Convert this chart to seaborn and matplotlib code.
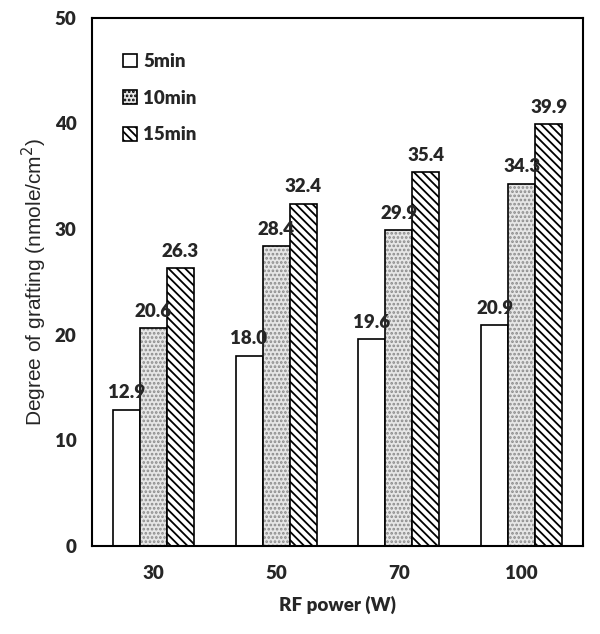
import pandas as pd
import numpy as np
import matplotlib
matplotlib.use('Agg')
import matplotlib.pyplot as plt
import seaborn as sns

# data
power = ['30', '50', '70', '100']
times = ['5min', '10min', '15min']
val_5 = [12.9, 18.0, 19.6, 20.9]
val_10 = [20.6, 28.4, 29.9, 34.3]
val_15 = [26.3, 32.4, 35.4, 39.9]

df = pd.DataFrame({
    'power': power * 3,
    'time': ['5min'] * 4 + ['10min'] * 4 + ['15min'] * 4,
    'value': val_5 + val_10 + val_15,
})

sns.set_style('white')
plt.rcParams['font.family'] = ['Lato', 'DejaVu Sans']
plt.rcParams['hatch.linewidth'] = 1.3

fig = plt.figure(figsize=(6, 6.34), dpi=100)
ax = fig.add_axes([0.153, 0.139, 0.819, 0.833])

sns.barplot(data=df, x='power', y='value', hue='time', order=power,
            hue_order=times, width=0.66, gap=0, edgecolor='black',
            linewidth=1.2, ax=ax, palette=['white', '#e6e6e6', 'white'])

styles = {'5min': ('white', ''), '10min': ('#e6e6e6', '....'), '15min': ('white', '\\\\\\\\')}
for cont, t in zip(ax.containers, times):
    fc, h = styles[t]
    for bar in cont:
        bar.set_facecolor(fc)
        bar.set_hatch(h)
        if t == '10min':
            bar._hatch_color = matplotlib.colors.to_rgba('#8a8a8a')
    ax.bar_label(cont, fmt='%.1f', padding=6, fontsize=13.5, fontweight='heavy')

# legend patches follow the bars
for p, t in zip(ax.get_legend().get_patches(), times):
    fc, h = styles[t]
    p.set_facecolor(fc)
    p.set_hatch(h)
ax.legend(handles=ax.get_legend().legend_handles, labels=times, loc='upper left',
          bbox_to_anchor=(0.03, 0.965), frameon=False,
          handlelength=0.75, handleheight=0.75, handletextpad=0.3,
          labelspacing=1.05, prop={'weight': 'heavy', 'size': 13.5})

ax.set_ylim(0, 50)
ax.set_yticks([0, 10, 20, 30, 40, 50])
ax.set_xlabel('RF power (W)', fontsize=13.5, fontweight='heavy', labelpad=10)
ax.set_ylabel('Degree of grafting (nmole/cm$^2$)', fontsize=15,
              family='Liberation Sans')
ax.yaxis.set_label_coords(-0.088, 0.5)
ax.tick_params(axis='x', labelsize=13.5, length=0, pad=14)
ax.tick_params(axis='y', labelsize=13.5, length=0, pad=11)
for lab in ax.get_xticklabels() + ax.get_yticklabels():
    lab.set_fontweight('heavy')
for s in ax.spines.values():
    s.set_linewidth(1.5)
    s.set_color('black')

fig.savefig('out.png', dpi=100)
